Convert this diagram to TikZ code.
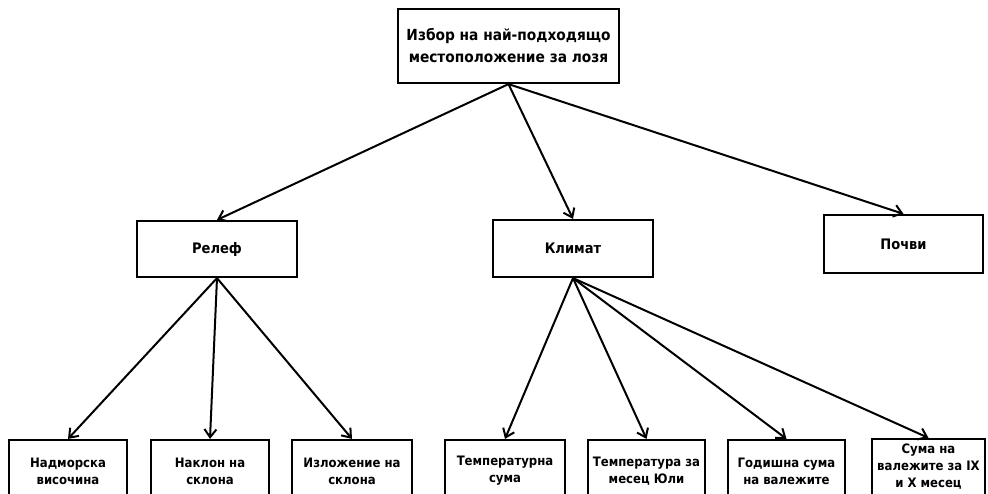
\documentclass[tikz,border=0pt]{standalone}
\usepackage{fontspec}
\setmainfont{DejaVu Sans}
\newfontfamily\boxfont{DejaVu Sans Condensed}
\usetikzlibrary{arrows.meta}

\begin{document}
\begin{tikzpicture}[x=1pt, y=-1pt,
    box/.style={draw, line width=2.2pt, align=center, inner sep=1pt,
      font=\boxfont\bfseries\fontsize{13}{17}\selectfont},
    arr/.style={line width=2pt, -{Straight Barb[length=8pt,width=12pt,line width=2pt]}}]
    % page frame (pixels, y down)
    \useasboundingbox (0,0) rectangle (988,493);

    % Top goal
    \node[box, minimum width=221pt, minimum height=74pt,
      font=\boxfont\bfseries\fontsize{15.3}{22}\selectfont] (goal) at (508.5,46)
      {Избор на най-подходящо\\местоположение за лозя};

    % Middle row
    \node[box, minimum width=160pt, minimum height=56pt, font=\boxfont\bfseries\fontsize{14.5}{17}\selectfont] (relef) at (217,249) {Релеф};
    \node[box, minimum width=160pt, minimum height=57pt, font=\boxfont\bfseries\fontsize{14.5}{17}\selectfont] (klimat) at (573,248.5) {Климат};
    \node[box, minimum width=159pt, minimum height=58pt, font=\boxfont\bfseries\fontsize{14.5}{17}\selectfont] (pochvi) at (903.5,244) {Почви};

    % Bottom row (cut by the page edge)
    \node[box, minimum width=118pt, minimum height=62pt] (nadm) at (68,471) {Надморска\\височина};
    \node[box, minimum width=118pt, minimum height=62pt] (naklon) at (210,471) {Наклон на\\склона};
    \node[box, minimum width=120pt, minimum height=62pt] (izlozh) at (352,471) {Изложение на\\склона};
    \node[box, minimum width=120pt, minimum height=62pt] (tsuma) at (505,471) {Температурна\\сума};
    \node[box, minimum width=117pt, minimum height=62pt] (tyuli) at (646.5,471) {Температура за\\месец Юли};
    \node[box, minimum width=117pt, minimum height=62pt] (valezh) at (786.5,471) {Годишна сума\\на валежите};
    \node[box, minimum width=113pt, minimum height=56pt] (suma) at (928.5,467) {Сума на\\валежите за IX\\и X месец};

    % Connectors
    \draw[arr] (goal.south) -- (relef.north);
    \draw[arr] (goal.south) -- (klimat.north);
    \draw[arr] (goal.south) -- (pochvi.north);

    \draw[arr] (relef.south) -- (nadm.north);
    \draw[arr] (relef.south) -- (naklon.north);
    \draw[arr] (relef.south) -- (izlozh.north);

    \draw[arr] (klimat.south) -- (tsuma.north);
    \draw[arr] (klimat.south) -- (tyuli.north);
    \draw[arr] (klimat.south) -- (valezh.north);
    \draw[arr] (klimat.south) -- (suma.north);
\end{tikzpicture}
\end{document}
